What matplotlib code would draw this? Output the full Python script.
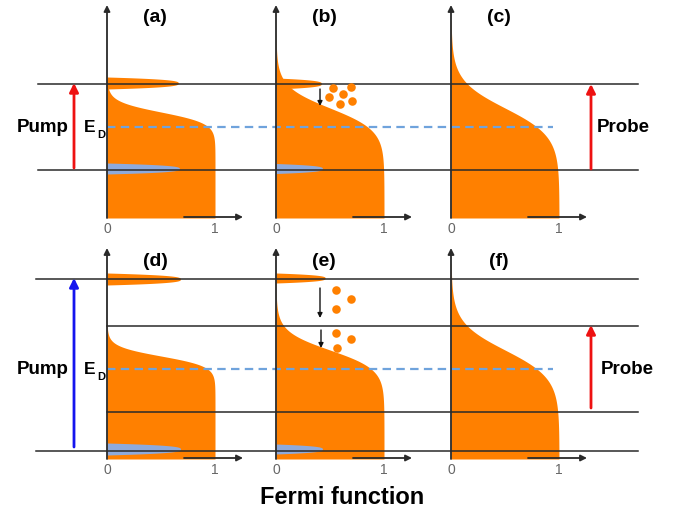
import numpy as np
import matplotlib
matplotlib.use("Agg")
import matplotlib.pyplot as plt
from matplotlib.patches import FancyArrowPatch

plt.rcParams['font.family'] = ['Liberation Sans', 'DejaVu Sans']

# ---------------- data (energies in pixel-row units, occupations 0..1) -------------
panel_labels = ['(a)', '(b)', '(c)', '(d)', '(e)', '(f)']
tick_labels = ['0', '1']
fermi_mu = [112, 108, 108, 356, 350, 350]      # energy where f = 0.5
fermi_kT = [5.5, 11, 14, 5, 9.5, 14]            # electronic temperature
upper_blob_E = [83, 83.5, np.nan, 279, 278, np.nan]
upper_blob_f = [0.66, 0.42, 0.0, 0.68, 0.455, 0.0]
upper_blob_w = [6, 5.5, 5, 6, 5, 5]
lower_blob_E = [168.5, 168.5, np.nan, 449, 449, np.nan]
lower_blob_f = [0.67, 0.43, 0.0, 0.68, 0.43, 0.0]
lower_blob_w = [5.5, 5, 5, 6, 5, 5]
levels_top = [84, 170]
levels_bottom = [279, 326, 412, 451]
dirac_E = [127, 369]
dots_b_x = [333, 351, 329, 343, 352, 340]
dots_b_y = [88, 87, 97, 94, 101, 104]
dots_e_x = [336, 351, 336, 336, 351, 337]
dots_e_y = [290, 299, 309, 333, 339, 348]

# ---------------- layout ----------------
W, H = 677, 515
col_x = [107, 276, 451]
fscale = 108
row_base = [217, 458]
row_top = [5, 248]
BLOB_P = 3.0

ORANGE = '#ff8000'
BLUEBLOB = '#8eaadc'
DASH = '#6fa3dc'
LINE = '#2a2a2a'

fig = plt.figure(figsize=(W / 100, H / 100), dpi=100)
ax = fig.add_axes([0, 0, 1, 1])
ax.set_xlim(0, W)
ax.set_ylim(H, 0)
ax.axis('off')


def blob(x0, Ec, fpk, w, color, z):
    yb = np.linspace(Ec - w, Ec + w, 300)
    fb = fpk * np.clip(1 - np.abs((yb - Ec) / w) ** BLOB_P, 0, None)
    ax.fill_betweenx(yb, x0, x0 + fb * fscale, color=color, lw=0, zorder=z)


for i in range(6):
    r, c = divmod(i, 3)
    x0 = col_x[c]
    base = row_base[r]
    top = row_top[r] + 15
    y = np.linspace(top, base + 1, 800)
    f = 1.0 / (1.0 + np.exp(-(y - fermi_mu[i]) / fermi_kT[i]))
    ax.fill_betweenx(y, x0, x0 + f * fscale, color=ORANGE, lw=0, zorder=2)
    if not np.isnan(upper_blob_E[i]):
        blob(x0, upper_blob_E[i], upper_blob_f[i], upper_blob_w[i], ORANGE, 2)
    if not np.isnan(lower_blob_E[i]):
        blob(x0, lower_blob_E[i], lower_blob_f[i], lower_blob_w[i], BLUEBLOB, 3)
    # axes arrows
    ax.add_patch(FancyArrowPatch((x0, base + 1), (x0, row_top[r]), arrowstyle='-|>',
                                 mutation_scale=9, lw=1.3, color=LINE, zorder=6,
                                 shrinkA=0, shrinkB=0))
    ax.add_patch(FancyArrowPatch((x0 + 77, base), (x0 + 136, base), arrowstyle='-|>',
                                 mutation_scale=9, lw=1.3, color=LINE, zorder=6,
                                 shrinkA=0, shrinkB=0))
    for k, lab in enumerate(tick_labels):
        ax.text(x0 + k * fscale, base + 12, lab, ha='center', va='center',
                fontsize=10, color='#666666', zorder=7)
    ax.text(x0 + 48, row_top[r] + 13, panel_labels[i], ha='center', va='center',
            fontsize=14, fontweight='bold', zorder=7)

# energy levels
for k, yl in enumerate(levels_top):
    ax.plot([38, 638], [yl, yl], color=LINE, lw=1.1, zorder=5)
for k, yl in enumerate(levels_bottom):
    xs = 36 if k in (0, 3) else col_x[0]
    ax.plot([xs, 638], [yl, yl], color=LINE, lw=1.1, zorder=5)

# Dirac point
for yd in dirac_E:
    ax.plot([col_x[0], 553], [yd, yd], color=DASH, lw=1.6, ls=(0, (3.8, 2.4)), zorder=5)

# hot carriers
ax.scatter(dots_b_x, dots_b_y, s=38, color=ORANGE, lw=0, zorder=6)
ax.scatter(dots_e_x, dots_e_y, s=38, color=ORANGE, lw=0, zorder=6)
for (xa, y1, y2) in [(320, 89, 106), (320, 288, 318), (321, 330, 348)]:
    ax.add_patch(FancyArrowPatch((xa, y1), (xa, y2), arrowstyle='-|>', mutation_scale=7,
                                 lw=1.0, color='#111111', zorder=6, shrinkA=0, shrinkB=0))

# pump / probe arrows
arrows = [((74, 168), (74, 83), '#ee1111'), ((591, 169), (591, 84), '#ee1111'),
          ((74, 447), (74, 278), '#1515ee'), ((591, 408), (591, 325), '#ee1111')]
for p1, p2, col in arrows:
    ax.add_patch(FancyArrowPatch(p1, p2, arrowstyle='-|>', mutation_scale=13, lw=2,
                                 color=col, zorder=6, shrinkA=0, shrinkB=0))

for yd, yp in [(127, 128), (369, 370)]:
    ax.text(43, yp, 'Pump', ha='center', va='center', fontsize=13.5, fontweight='bold')
    ax.text(90, yd, 'E', ha='center', va='center', fontsize=12.5, fontweight='bold')
    ax.text(101, yd + 8, 'D', ha='center', va='center', fontsize=8, fontweight='bold')
ax.text(623, 128, 'Probe', ha='center', va='center', fontsize=13.5, fontweight='bold')
ax.text(627, 369, 'Probe', ha='center', va='center', fontsize=13.5, fontweight='bold')

ax.text(342, 497, 'Fermi function', ha='center', va='center', fontsize=17, fontweight='bold')

fig.savefig('out.png', dpi=100)
